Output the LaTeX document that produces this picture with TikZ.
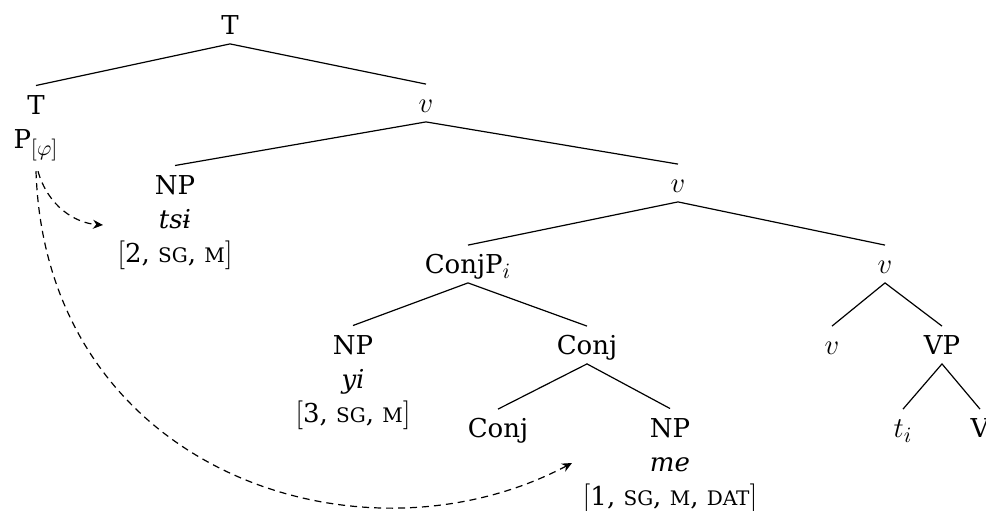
\documentclass[tikz,border=0pt]{standalone}
\usepackage{fontspec}
\setmainfont{DejaVu Serif}
\usetikzlibrary{arrows.meta}
\DeclareMathSizes{13}{15}{10.5}{8}

% fake small caps (DejaVu Serif has none)
\newcommand\fsc[1]{{\fontsize{10}{10}\selectfont #1}}

\tikzset{
  cat/.style={inner sep=2.5pt,text height=11.5pt,text depth=2pt},
  leaf/.style={align=center,anchor=north,inner sep=5pt},
  branch/.style={line width=0.6pt},
  move/.style={line width=0.6pt,dash pattern=on 3.5pt off 2.5pt,-{Stealth[length=5pt,width=4.5pt]}}
}

\begin{document}
\begin{tikzpicture}[x=0.5pt,y=-0.5pt,font=\fontsize{13}{17}\selectfont]
\useasboundingbox (0,0) rectangle (986,510);

% categories
\node[cat] (T) at (230,25) {T};
\node[leaf] (Tlow) at (36,85.5) {T\\P$_{[\varphi]}$};
\node[cat] (v1) at (426,103) {$v$};
\node[leaf] (npA) at (175,165.5) {NP\\\textit{tsɨ}\\$[$2, \fsc{SG}, \fsc{M}$]$};
\node[cat] (v2) at (678,183) {$v$};
\node[cat] (conjp) at (468,264) {ConjP$_i$};
\node[cat] (v3) at (885,264) {$v$};
\node[leaf] (npB) at (353,325.5) {NP\\\textit{yi}\\$[$3, \fsc{SG}, \fsc{M}$]$};
\node[cat] (conj) at (587,345) {Conj};
\node[cat] (v4) at (832,345) {$v$};
\node[cat] (vp) at (942,345) {VP};
\node[cat] (conjh) at (498,428) {Conj};
\node[leaf] (npC) at (670,408.5) {NP\\\textit{me}\\$[$1, \fsc{SG}, \fsc{M}, \fsc{DAT}$]$};
\node[cat] (ti) at (903,428) {$t_i$};
\node[cat] (V) at (980,428) {V};

% branches
\draw[branch] (Tlow.north) -- (T.south) -- (v1.north);
\draw[branch] (npA.north) -- (v1.south) -- (v2.north);
\draw[branch] (conjp.north) -- (v2.south) -- (v3.north);
\draw[branch] (npB.north) -- (conjp.south) -- (conj.north);
\draw[branch] (v4.north) -- (v3.south) -- (vp.north);
\draw[branch] (conjh.north) -- (conj.south) -- (npC.north);
\draw[branch] (ti.north) -- (vp.south) -- (V.north);

% agreement arrows
\coordinate (tsitip) at (103,225);
\coordinate (metip) at (572,463);
\draw[move] ([xshift=1pt]Tlow.south) .. controls +(10,35) and +(-28,-2) .. (tsitip);
\draw[move] (Tlow.south) .. controls +(10,300) and +(-212,112) .. (metip);
\end{tikzpicture}
\end{document}
